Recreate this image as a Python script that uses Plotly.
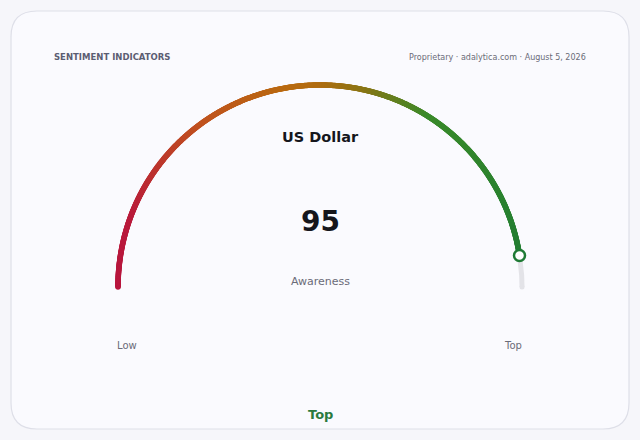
import numpy as np
import plotly.graph_objects as go

# Data
title = "SENTIMENT INDICATORS"
source = "Proprietary · adalytica.com · August 5, 2026"
asset = "US Dollar"
metric = "Awareness"
value = 95
vmin, vmax = 0, 100
low_label = "Low"
high_label = "Top"
band = "Top"

# gauge geometry (pixel space, y down)
cx, cy, r = 320, 287, 202
colorscale = [[0, "#b8153e"], [0.12, "#b91b3b"], [0.3, "#c0521f"],
              [0.45, "#b96a10"], [0.5, "#b06c10"], [0.57, "#8a7515"],
              [0.68, "#3a8a2a"], [1, "#1e7b34"]]


def pos(v):
    a = np.pi * (1 - (v - vmin) / (vmax - vmin))
    return cx + r * np.cos(a), cy - r * np.sin(a)


fig = go.Figure()

# grey remaining track
t_rest = np.linspace(value, vmax, 60)
xr, yr = pos(t_rest)
fig.add_trace(go.Scatter(x=xr, y=yr, mode="lines",
                         line=dict(color="#e3e3e8", width=5), hoverinfo="skip"))
fig.add_trace(go.Scatter(x=[xr[-1]], y=[yr[-1]], mode="markers",
                         marker=dict(color="#e3e3e8", size=5), hoverinfo="skip"))

# gradient arc, dense markers coloured by position
t = np.linspace(vmin, value, 900)
xa, ya = pos(t)
fig.add_trace(go.Scatter(
    x=xa, y=ya, mode="markers",
    marker=dict(size=5.5, color=(t - vmin) / (vmax - vmin), colorscale=colorscale,
                cmin=0, cmax=1, line=dict(width=0)),
    hoverinfo="skip"))

# value marker
xm, ym = pos(value)
fig.add_trace(go.Scatter(
    x=[xm], y=[ym], mode="markers",
    marker=dict(size=11, color="white", line=dict(color="#1f7a35", width=2.5)),
    hoverinfo="skip"))

ann = [
    dict(x=52, y=57, text=title, xanchor="left",
         font=dict(size=8.5, color="#5b5d72", family="DejaVu Sans"), bold=True),
    dict(x=588, y=57, text=source, xanchor="right",
         font=dict(size=8, color="#6a6b78", family="DejaVu Sans")),
    dict(x=320, y=137, text=asset, bold=True,
         font=dict(size=14.5, color="#15161c", family="DejaVu Sans")),
    dict(x=320, y=221, text=str(value), bold=True,
         font=dict(size=28, color="#15161c", family="DejaVu Sans")),
    dict(x=320, y=281, text=metric,
         font=dict(size=11, color="#6a6b78", family="DejaVu Sans")),
    dict(x=127, y=345, text=low_label,
         font=dict(size=10, color="#6a6b78", family="DejaVu Sans")),
    dict(x=513, y=345, text=high_label,
         font=dict(size=10, color="#6a6b78", family="DejaVu Sans")),
    dict(x=320, y=414, text=band, bold=True,
         font=dict(size=13, color="#2a7a3e", family="DejaVu Sans")),
]
annotations = []
for a in ann:
    bold = a.pop("bold", False)
    if bold:
        a["text"] = "<b>" + a["text"] + "</b>"
    a.update(xref="x", yref="y", showarrow=False, yanchor="middle")
    annotations.append(a)

# rounded card
x0, y0, x1, y1, rr = 11, 11, 629, 429, 26
card = (f"M {x0+rr},{y0} L {x1-rr},{y0} Q {x1},{y0} {x1},{y0+rr} "
        f"L {x1},{y1-rr} Q {x1},{y1} {x1-rr},{y1} L {x0+rr},{y1} "
        f"Q {x0},{y1} {x0},{y1-rr} L {x0},{y0+rr} Q {x0},{y0} {x0+rr},{y0} Z")

fig.update_layout(
    width=640, height=440,
    margin=dict(l=0, r=0, t=0, b=0),
    paper_bgcolor="#f6f6fa",
    plot_bgcolor="rgba(0,0,0,0)",
    showlegend=False,
    xaxis=dict(range=[0, 640], visible=False, fixedrange=True),
    yaxis=dict(range=[440, 0], visible=False, fixedrange=True),
    shapes=[dict(type="path", path=card, xref="x", yref="y", layer="below",
                 fillcolor="#fafafe", line=dict(color="#dedfe8", width=1.2))],
    annotations=annotations,
)

# drop the page margin so the figure sits at the window corner
fig.write_html("out.html", config={"displayModeBar": False},
               post_script="document.body.style.margin='0';"
                           "document.body.style.background='#f6f6fa';")
